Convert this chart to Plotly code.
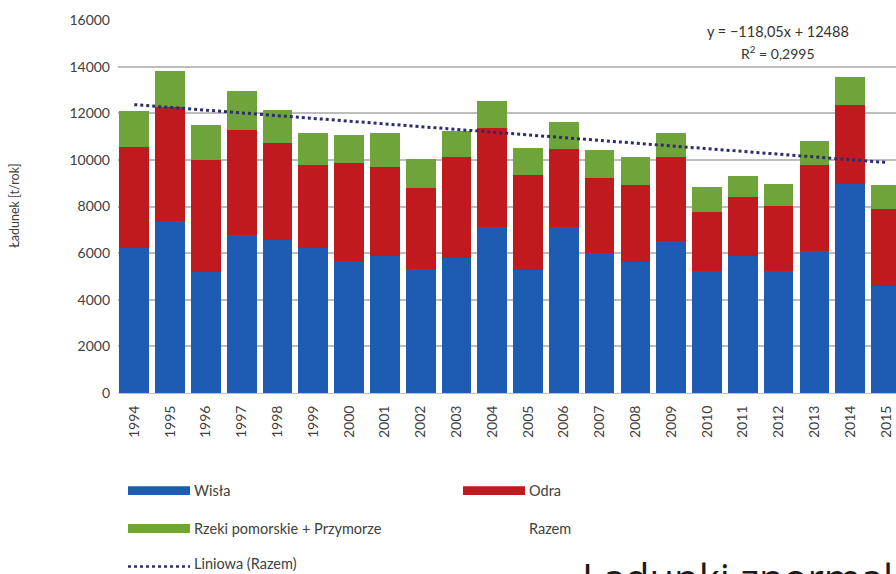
import plotly.graph_objects as go

# Annual loads [t/rok] by basin
years = [str(y) for y in range(1994, 2016)]
wisla = [6220, 7390, 5200, 6760, 6570, 6220, 5670, 5890, 5330, 5790, 7140,
         5260, 7100, 6000, 5640, 6530, 5240, 5890, 5240, 6110, 8960, 4600]
odra = [4350, 4890, 4800, 4525, 4145, 3565, 4185, 3795, 3485, 4325, 4245,
        4070, 3360, 3240, 3290, 3585, 2515, 2515, 2800, 3675, 3400, 3300]
rzeki = [1540, 1530, 1490, 1670, 1430, 1360, 1200, 1460, 1215, 1140, 1155,
         1200, 1185, 1185, 1185, 1030, 1070, 885, 930, 1040, 1215, 1030]

# Linear trend of the total, y = -118,05x + 12488 (x = 1 for 1994)
trend_slope = -118.05
trend_intercept = 12488
trend = [trend_slope * (i + 1) + trend_intercept for i in range(len(years))]

y_ticks = [0, 2000, 4000, 6000, 8000, 10000, 12000, 14000, 16000]

BLUE = "#1E5CB3"
RED = "#C0191E"
GREEN = "#6FA43A"
TREND = "#2E2C6E"
TEXT = "#404040"
FONT = "Lato"

W, H = 896, 574
L, R, T, B = 118, 0, 20, 180.7
PW = W - L - R
PH = H - T - B


def px(x):
    return (x - L) / PW


def py(y):
    return (H - B - y) / PH


fig = go.Figure()
fig.add_bar(x=years, y=wisla, name="Wisła", marker_color=BLUE, marker_line_width=0)
fig.add_bar(x=years, y=odra, name="Odra", marker_color=RED, marker_line_width=0)
fig.add_bar(x=years, y=rzeki, name="Rzeki pomorskie + Przymorze",
            marker_color=GREEN, marker_line_width=0)
fig.add_scatter(x=years, y=trend, mode="lines", name="Liniowa (Razem)",
                line=dict(color=TREND, width=3, dash="dot"), cliponaxis=False)

fig.update_layout(
    width=W, height=H,
    margin=dict(l=L, r=R, t=T, b=B, pad=0),
    barmode="stack", bargap=0.17,
    showlegend=False,
    plot_bgcolor="white", paper_bgcolor="white",
    font=dict(family=FONT, color=TEXT, size=14),
)
fig.update_xaxes(
    type="category", range=[-0.455, 21.28],
    tickangle=-90, tickfont=dict(size=14, color=TEXT),
    showgrid=False, showline=True, linecolor="#BFBFBF", linewidth=1,
    ticks="", ticklabelstandoff=6,
)
fig.update_yaxes(
    range=[0, 16000], tickvals=y_ticks, ticktext=[str(v) for v in y_ticks],
    showgrid=True, gridcolor="#BDBDBD", gridwidth=1.5,
    zeroline=False, showline=False, ticks="",
    tickfont=dict(size=14, color=TEXT), ticklabelstandoff=7,
)

# Axis title
fig.add_annotation(text="Ładunek [t/rok]", xref="paper", yref="paper",
                   x=px(15), y=py(206), textangle=-90, showarrow=False,
                   font=dict(size=12.5, color=TEXT), xanchor="center", yanchor="middle")

# Trend equation
fig.add_annotation(text="y = −118,05x + 12488", xref="paper", yref="paper",
                   x=px(778), y=py(32), showarrow=False,
                   font=dict(size=14.5, color="#333333"), xanchor="center", yanchor="middle")
fig.add_annotation(text="R<sup>2</sup> = 0,2995", xref="paper", yref="paper",
                   x=px(778), y=py(53), showarrow=False,
                   font=dict(size=14, color="#333333"), xanchor="center", yanchor="middle")

# Legend below the chart
legend_rows = [
    ("Wisła", BLUE, 128, 491, "bar"),
    ("Odra", RED, 463, 491, "bar"),
    ("Rzeki pomorskie + Przymorze", GREEN, 128, 529, "bar"),
    ("Razem", None, 463, 529, "none"),
    ("Liniowa (Razem)", TREND, 128, 564, "dot"),
]
for label, color, x0, yc, kind in legend_rows:
    if kind == "bar":
        fig.add_shape(type="rect", xref="paper", yref="paper",
                      x0=px(x0), x1=px(x0 + 62), y0=py(yc + 4.5), y1=py(yc - 4.5),
                      fillcolor=color, line_width=0)
    elif kind == "dot":
        fig.add_shape(type="line", xref="paper", yref="paper",
                      x0=px(x0), x1=px(x0 + 62), y0=py(yc + 3), y1=py(yc + 3),
                      line=dict(color=color, width=2.5, dash="dot"))
    fig.add_annotation(text=label, xref="paper", yref="paper",
                       x=px(x0 + 64), y=py(yc), showarrow=False,
                       font=dict(size=14.5, color=TEXT), xanchor="left", yanchor="middle")

# Slide heading running below the chart
fig.add_annotation(text="Ładunki znormalizowane", xref="paper", yref="paper",
                   x=px(580), y=py(548), showarrow=False,
                   font=dict(size=40, color="#1A1A1A", family="Open Sans"),
                   xanchor="left", yanchor="top")

fig.write_html("out.html")
